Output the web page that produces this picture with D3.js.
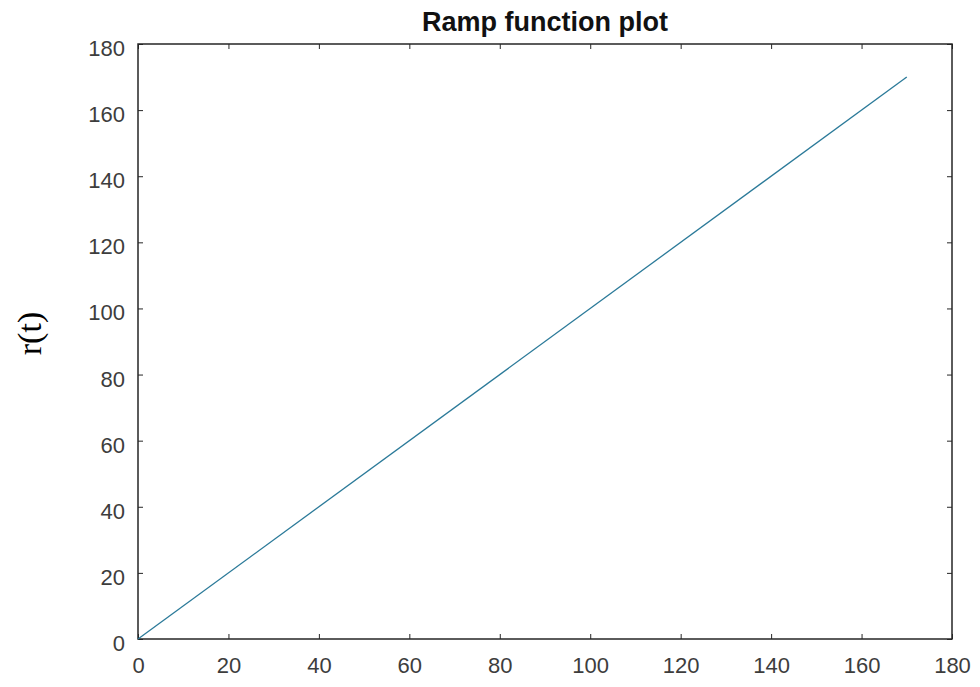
<!DOCTYPE html>
<html>
<head>
<meta charset="utf-8">
<script src="https://cdn.jsdelivr.net/npm/d3@7"></script>
<style>
  body { margin: 0; background: #fff; }
  svg { display: block; }
</style>
</head>
<body>
<svg width="980" height="687"></svg>
<script>
// ramp r(t) = t, drawn between its end points
const tValues = [0, 170];
const rValues = [0, 170];
const xTicks = [0, 20, 40, 60, 80, 100, 120, 140, 160, 180];
const yTicks = [0, 20, 40, 60, 80, 100, 120, 140, 160, 180];

const svg = d3.select("svg");
const margin = { top: 44, right: 28, bottom: 48, left: 138 };
const width = +svg.attr("width");
const height = +svg.attr("height");
const innerWidth = width - margin.left - margin.right;
const innerHeight = height - margin.top - margin.bottom;

const g = svg.append("g").attr("transform", `translate(${margin.left},${margin.top})`);

const x = d3.scaleLinear().domain([0, 180]).range([0, innerWidth]);
const y = d3.scaleLinear().domain([0, 180]).range([innerHeight, 0]);

const tickLen = 5;
const axisColor = "#262626";

function styleAxis(sel, showLabels) {
  sel.select(".domain").remove();
  sel.selectAll(".tick line").attr("stroke", axisColor).attr("stroke-width", 1);
  sel.selectAll(".tick text")
    .attr("fill", "#3d3d3d")
    .style("font-family", "Arial, 'Liberation Sans', sans-serif")
    .style("font-size", "22px");
  if (!showLabels) sel.selectAll(".tick text").remove();
}

// bottom & left with labels, ticks pointing inward
g.append("g")
  .attr("transform", `translate(0,${innerHeight})`)
  .call(d3.axisBottom(x).tickValues(xTicks).tickSizeInner(-tickLen).tickSizeOuter(0).tickPadding(18))
  .call(s => styleAxis(s, true));

g.append("g")
  .call(d3.axisLeft(y).tickValues(yTicks).tickSizeInner(-tickLen).tickSizeOuter(0).tickPadding(13))
  .call(s => styleAxis(s, true))
  .call(s => s.selectAll(".tick text").attr("dy", "0.52em"));

// mirrored ticks on top and right
g.append("g")
  .call(d3.axisTop(x).tickValues(xTicks).tickSizeInner(-tickLen).tickSizeOuter(0))
  .call(s => styleAxis(s, false));

g.append("g")
  .attr("transform", `translate(${innerWidth},0)`)
  .call(d3.axisRight(y).tickValues(yTicks).tickSizeInner(-tickLen).tickSizeOuter(0))
  .call(s => styleAxis(s, false));

// box
g.append("rect")
  .attr("width", innerWidth)
  .attr("height", innerHeight)
  .attr("fill", "none")
  .attr("stroke", axisColor)
  .attr("stroke-width", 1.5);

// the ramp
const line = d3.line()
  .x((d, i) => x(tValues[i]))
  .y(d => y(d));

g.append("path")
  .datum(rValues)
  .attr("d", line)
  .attr("fill", "none")
  .attr("stroke", "#2b7a99")
  .attr("stroke-width", 1.3);

// title
svg.append("text")
  .attr("x", 545)
  .attr("y", 31)
  .attr("text-anchor", "middle")
  .style("font-family", "Arial, 'Liberation Sans', sans-serif")
  .style("font-weight", "bold")
  .style("font-size", "27px")
  .attr("fill", "#111")
  .text("Ramp function plot");

// y label
svg.append("text")
  .attr("transform", `translate(41,${margin.top + innerHeight / 2 - 8}) rotate(-90)`)
  .attr("text-anchor", "middle")
  .style("font-family", "'Liberation Serif', 'Times New Roman', serif")
  .style("font-size", "34px")
  .attr("fill", "#000")
  .text("r(t)");
</script>
</body>
</html>
